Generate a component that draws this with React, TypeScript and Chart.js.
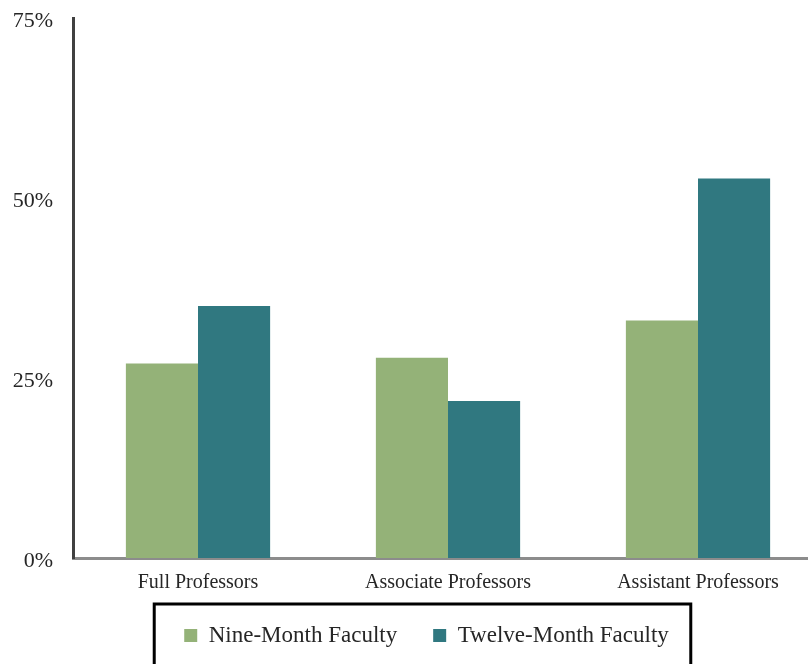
import React, { useEffect, useRef } from "react";
import { Chart, registerables } from "chart.js";

Chart.register(...registerables);

const categories = ["Full Professors", "Associate Professors", "Assistant Professors"];
const seriesLabels = ["Nine-Month Faculty", "Twelve-Month Faculty"];
const nineMonth = [27, 27.8, 33];
const twelveMonth = [35, 21.8, 52.7];
const yTickValues = [0, 25, 50, 75];

const FONT = "'Liberation Serif', 'Times New Roman', serif";
const LEGEND_PAD = 36;
const LEGEND_SHIFT_X = 10;
const LEGEND_SHIFT_Y = -6;

const legendBoxPlugin = {
  id: "legendBox",
  afterLayout(chart: any) {
    const lg = chart.legend;
    if (!lg) return;
    lg.left += LEGEND_SHIFT_X;
    lg.right += LEGEND_SHIFT_X;
    lg.top += LEGEND_SHIFT_Y;
    lg.bottom += LEGEND_SHIFT_Y;
    if (lg.legendHitBoxes)
      lg.legendHitBoxes.forEach((h: any) => {
        h.left += LEGEND_SHIFT_X;
        h.top += LEGEND_SHIFT_Y;
      });
  },
  afterDraw(chart: any) {
    const lg = chart.legend;
    if (!lg || !lg.lineWidths) return;
    const lw = lg.lineWidths[0];
    const x0 = (lg.left + LEGEND_PAD + lg.right - lw) / 2;
    const x1 = x0 + lw - LEGEND_PAD;
    const itemTop = lg.top + LEGEND_PAD;
    const left = x0 - 30;
    const right = x1 + 22;
    const top = itemTop - 20;
    const ctx = chart.ctx;
    ctx.save();
    ctx.strokeStyle = "#000000";
    ctx.lineWidth = 3;
    ctx.strokeRect(left, top, right - left, chart.height + 20 - top);
    ctx.restore();
  },
};

export default function App() {
  const ref = useRef<HTMLCanvasElement | null>(null);
  useEffect(() => {
    if (!ref.current) return;
    const chart = new Chart(ref.current, {
      type: "bar",
      data: {
        labels: categories,
        datasets: [
          {
            label: seriesLabels[0],
            data: nineMonth,
            backgroundColor: "#94B278",
            borderWidth: 0,
          },
          {
            label: seriesLabels[1],
            data: twelveMonth,
            backgroundColor: "#307880",
            borderWidth: 0,
          },
        ],
      },
      options: {
        animation: false,
        responsive: false,
        maintainAspectRatio: false,
        layout: { padding: { left: 10, top: 18, right: 7, bottom: 17 } },
        datasets: { bar: { categoryPercentage: 0.577, barPercentage: 1 } } as any,
        scales: {
          x: {
            grid: { display: false, drawTicks: false },
            border: { display: true, color: "#8C8C8C", width: 3 },
            ticks: {
              padding: 13,
              color: "#262626",
              font: { family: FONT, size: 20 },
            },
            afterFit(scale: any) {
              scale.height = 36;
            },
          },
          y: {
            min: 0,
            max: 75,
            grid: { display: false, drawTicks: false },
            border: { display: true, color: "#404040", width: 3 },
            afterBuildTicks(scale: any) {
              scale.ticks = yTickValues.map((v) => ({ value: v }));
            },
            ticks: {
              padding: 20,
              labelOffset: 3,
              color: "#262626",
              font: { family: FONT, size: 22 },
              callback: (v: any) => `${v}%`,
            },
            afterFit(scale: any) {
              scale.width = 63;
              scale.paddingTop = 0;
              scale.paddingBottom = 0;
            },
          },
        },
        plugins: {
          legend: {
            position: "bottom",
            labels: {
              boxWidth: 13,
              boxHeight: 13,
              padding: LEGEND_PAD,
              color: "#262626",
              font: { family: FONT, size: 23 },
            },
          },
          tooltip: { enabled: false },
        },
      },
      plugins: [legendBoxPlugin],
    });
    return () => chart.destroy();
  }, []);

  return (
    <div
      style={{
        position: "absolute",
        left: 0,
        top: 0,
        width: 808,
        height: 664,
        overflow: "hidden",
        background: "#ffffff",
      }}
    >
      <canvas ref={ref} width={830} height={680} style={{ display: "block" }} />
    </div>
  );
}
